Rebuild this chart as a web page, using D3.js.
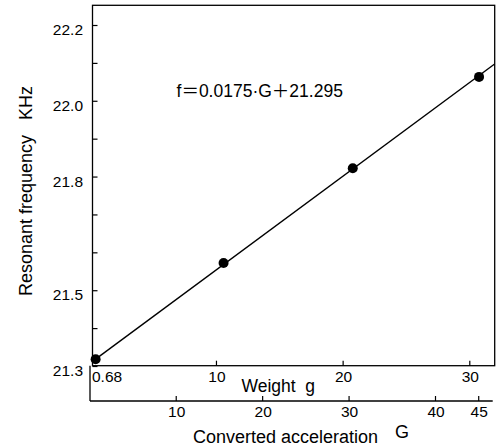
<!DOCTYPE html>
<html>
<head>
<meta charset="utf-8">
<script src="https://cdn.jsdelivr.net/npm/d3@7"></script>
<style>
  body { margin: 0; background: #fff; }
  text { font-family: "Liberation Sans", Arial, sans-serif; fill: #000; }
</style>
</head>
<body>
<div id="chart"></div>
<script>
// data
const weights = [0.5, 10.6, 20.8, 30.77];          // g
const freqs = [21.318, 21.572, 21.822, 22.063];    // KHz
const fitLine = [[0.73, 21.318], [46.9, 22.097]];  // [G, KHz] ends of the drawn line
const yTicks = [21.3, 21.5, 21.8, 22.0, 22.2];
const yMinor = [21.4, 21.6, 21.7, 21.9, 22.1];
const weightTicks = [10, 20, 30];
const accelTicks = [10, 20, 30, 40, 45];
const equation = ["f", "\uFF1D", "0.0175", "\u00B7", "G", "\uFF0B", "21.295"];

const W = 497, H = 448;
const box = {left: 92.5, right: 494.7, top: 5.3, bottom: 365.7};
const accelBase = 401;

const svg = d3.select("#chart").append("svg")
    .attr("width", W).attr("height", H);

// scales
const xw = d3.scaleLinear().domain([0, 30]).range([89.3, 469.3]);
const xg = d3.scaleLinear().domain([0, 40]).range([89.3, 435]);
const y = d3.scaleLinear().domain([21.3, 22.2]).range([366, 25]);

// frame
svg.append("rect")
    .attr("x", box.left).attr("y", box.top)
    .attr("width", box.right - box.left).attr("height", box.bottom - box.top)
    .attr("fill", "none").attr("stroke", "#000").attr("stroke-width", 1.3);
svg.append("line")
    .attr("x1", 90).attr("x2", 90).attr("y1", box.bottom).attr("y2", accelBase)
    .attr("stroke", "#000").attr("stroke-width", 1.3);

// y axis: ticks point inward, labels left
const yAxis = d3.axisRight(y).tickValues(yTicks.concat(yMinor)).tickSize(5).tickFormat("");
svg.append("g").attr("transform", `translate(${box.left},0)`).call(yAxis)
    .call(g => g.select(".domain").remove())
    .call(g => g.selectAll("line").attr("stroke-width", 1.2));
svg.append("g").selectAll("text").data(yTicks).join("text")
    .attr("x", 83).attr("y", d => y(d) + 10)
    .attr("text-anchor", "end").attr("font-size", 15.5)
    .text(d => d.toFixed(1));

// weight axis (bottom of box)
const wAxis = d3.axisTop(xw).tickValues(weightTicks).tickSize(5).tickFormat("");
svg.append("g").attr("transform", `translate(0,${box.bottom})`).call(wAxis)
    .call(g => g.select(".domain").remove())
    .call(g => g.selectAll("line").attr("stroke-width", 1.2));
svg.append("g").selectAll("text").data(weightTicks).join("text")
    .attr("x", d => xw(d) + 1).attr("y", 381.5)
    .attr("text-anchor", "middle").attr("font-size", 15.5)
    .text(d => d);
svg.append("text").attr("x", 92).attr("y", 381.5).attr("font-size", 15.5).text("0.68");
svg.append("text").attr("x", 241.5).attr("y", 392).attr("font-size", 17.5)
    .attr("xml:space", "preserve").text("Weight  g");

// converted acceleration axis
const gAxis = d3.axisTop(xg).tickValues(accelTicks).tickSize(5).tickFormat("");
svg.append("g").attr("transform", `translate(0,${accelBase})`).call(gAxis)
    .call(g => g.select(".domain").remove())
    .call(g => g.selectAll("line").attr("stroke-width", 1.2));
svg.append("line")
    .attr("x1", 90).attr("x2", 492.7).attr("y1", accelBase).attr("y2", accelBase)
    .attr("stroke", "#000").attr("stroke-width", 1.3);
svg.append("g").selectAll("text").data(accelTicks).join("text")
    .attr("x", d => xg(d) + 1).attr("y", 417)
    .attr("text-anchor", "middle").attr("font-size", 15.5)
    .text(d => d);
svg.append("text").attr("x", 193).attr("y", 443).attr("font-size", 18)
    .text("Converted acceleration");
svg.append("text").attr("x", 395).attr("y", 438).attr("font-size", 18).text("G");

// y title
svg.append("text")
    .attr("transform", "translate(31.5,191) rotate(-90)")
    .attr("text-anchor", "middle").attr("font-size", 18)
    .attr("xml:space", "preserve")
    .text("Resonant frequency   KHz");

// equation
svg.append("text").attr("x", 176.5).attr("y", 97).attr("font-size", 17.5)
    .selectAll("tspan").data(equation).join("tspan")
    .attr("font-family", d => /[\uFF1D\uFF0B]/.test(d) ? "Noto Sans CJK JP" : null)
    .text(d => d);

// fitted line
svg.append("line")
    .attr("x1", xg(fitLine[0][0])).attr("y1", y(fitLine[0][1]))
    .attr("x2", xg(fitLine[1][0])).attr("y2", y(fitLine[1][1]))
    .attr("stroke", "#000").attr("stroke-width", 1.4);

// points
svg.append("g").selectAll("circle").data(weights).join("circle")
    .attr("cx", d => xw(d)).attr("cy", (d, i) => y(freqs[i]))
    .attr("r", 5).attr("fill", "#000");
</script>
</body>
</html>
